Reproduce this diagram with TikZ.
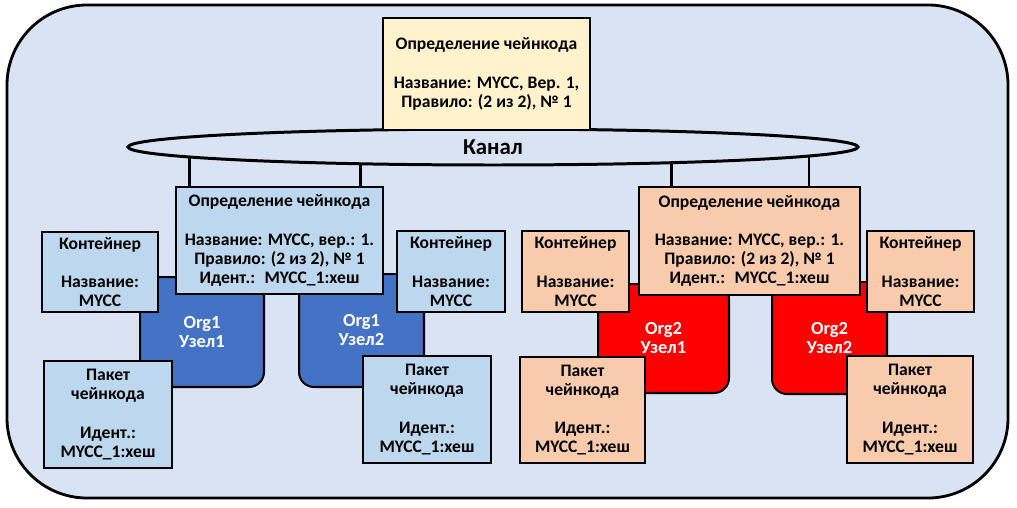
\documentclass[tikz,border=0pt]{standalone}
\usepackage{fontspec}
\setmainfont{Carlito}
\usepackage{xcolor}
\usetikzlibrary{positioning,shapes.geometric}

\definecolor{bgblue}{HTML}{DAE3F3}
\definecolor{lblue}{HTML}{BDD7EE}
\definecolor{mblue}{HTML}{4472C4}
\definecolor{lorange}{HTML}{F8CBAD}
\definecolor{lyellow}{HTML}{FFF2CC}

\begin{document}
\begin{tikzpicture}[x=0.02cm,y=-0.02cm,
 box/.style={draw,line width=1.15pt,align=center,inner sep=0pt,
             font=\fontsize{10}{10.8}\selectfont\bfseries},
 orgA/.style={box,fill=lblue},
 orgB/.style={box,fill=lorange},
 peer/.style={box,rounded corners=0.3cm,text=white,font=\fontsize{10.5}{10.8}\selectfont\bfseries},
 chanline/.style={line width=1.7pt}
]
\useasboundingbox (0,0) rectangle (1017,507);
\draw[line width=1.6pt,fill=bgblue,rounded corners=1.6cm] (7,5) rectangle (1008,498);

% peers
\node[peer,fill=mblue,minimum width=2.48cm,minimum height=2.2cm] (nA1) at (202,332) {Org1\\Узел1};
\node[peer,fill=mblue,minimum width=2.5cm,minimum height=2.26cm] (nA2) at (361.5,330.5) {Org1\\Узел2};
\node[peer,fill=red,minimum width=2.62cm,minimum height=2.18cm] (nB1) at (663.5,338.5) {Org2\\Узел1};
\node[peer,fill=red,minimum width=2.3cm,minimum height=2.24cm] (nB2) at (829.5,338) {Org2\\Узел2};

% definition boxes of the two orgs
\node[orgA,minimum width=4.14cm,minimum height=2.14cm] (dA) at (279.5,240.5)
  {Определение чейнкода\\[11pt]Название: MYCC, вер.: 1.\\Правило: (2 из 2), № 1\\Идент.:~ MYCC\_1:хеш};
\node[orgB,minimum width=4.42cm,minimum height=2.16cm] (dB) at (749.5,241)
  {Определение чейнкода\\[11pt]Название: MYCC, вер.: 1.\\Правило: (2 из 2), № 1\\Идент.:~ MYCC\_1:хеш};

\draw[chanline] ([xshift=-1.81cm]dA.north) -- ([xshift=-1.81cm]dA.north |- 0,147);
\draw[chanline] ([xshift=1.63cm]dA.north) -- ([xshift=1.63cm]dA.north |- 0,147);
\draw[chanline] ([xshift=-1.57cm]dB.north) -- ([xshift=-1.57cm]dB.north |- 0,147);
\draw[chanline] ([xshift=1.19cm]dB.north) -- ([xshift=1.19cm]dB.north |- 0,147);

% channel and its definition
\node[ellipse,draw,chanline,fill=bgblue,minimum width=14.6cm,minimum height=0.72cm,inner sep=0pt,
      font=\fontsize{13}{14}\selectfont\bfseries] (chan) at (493,147) {Канал};
\node[box,fill=lyellow,minimum width=4.16cm,minimum height=2.24cm] (def) at (486.5,74)
  {Определение чейнкода\\[11pt]Название: MYCC, Вер. 1,\\Правило: (2 из 2), № 1};

% containers
\node[orgA,minimum width=2.32cm,minimum height=1.6cm] (cA1) at (100,272) {Контейнер\\[11pt]Название:\\MYCC};
\node[orgA,minimum width=2.16cm,minimum height=1.62cm] (cA2) at (451,271.5) {Контейнер\\[11pt]Название:\\MYCC};
\node[orgB,minimum width=2.14cm,minimum height=1.62cm] (cB1) at (575.5,271.5) {Контейнер\\[11pt]Название:\\MYCC};
\node[orgB,minimum width=2.14cm,minimum height=1.62cm] (cB2) at (920.5,271.5) {Контейнер\\[11pt]Название:\\MYCC};

% chaincode packages
\node[orgA,minimum width=2.56cm,minimum height=2.14cm] (pA1) at (108,414.5) {Пакет\\чейнкода\\[11pt]Идент.:\\MYCC\_1:хеш};
\node[orgA,minimum width=2.56cm,minimum height=2.14cm] (pA2) at (427,409.5) {Пакет\\чейнкода\\[11pt]Идент.:\\MYCC\_1:хеш};
\node[orgB,minimum width=2.5cm,minimum height=2.12cm] (pB1) at (582.5,410) {Пакет\\чейнкода\\[11pt]Идент.:\\MYCC\_1:хеш};
\node[orgB,minimum width=2.52cm,minimum height=2.14cm] (pB2) at (910,409.5) {Пакет\\чейнкода\\[11pt]Идент.:\\MYCC\_1:хеш};
\end{tikzpicture}
\end{document}
